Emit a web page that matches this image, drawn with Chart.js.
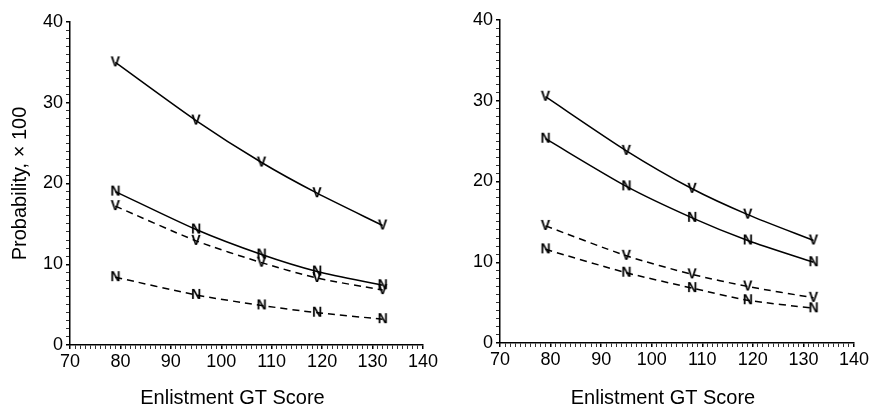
<!DOCTYPE html>
<html>
<head>
<meta charset="utf-8">
<script src="https://cdn.jsdelivr.net/npm/chart.js@4.4.1/dist/chart.umd.min.js"></script>
<style>
  html, body { margin: 0; padding: 0; background: #fff; }
  body { width: 871px; height: 409px; position: relative; overflow: hidden; }
  .panel { position: absolute; top: 0; height: 409px; }
</style>
</head>
<body>
<div class="panel" style="left:0;width:440px"><canvas id="chart-left" width="440" height="409"></canvas></div>
<div class="panel" style="left:435px;width:436px"><canvas id="chart-right" width="436" height="409"></canvas></div>
<script>
// GT scores where the probabilities were evaluated
const gtScores = [79, 95, 108, 119, 132];

// Left panel
const leftSolidV = [35.0, 27.8, 22.6, 18.8, 14.8];
const leftSolidN = [19.0, 14.3, 11.2, 9.1, 7.4];
const leftDashV = [17.2, 12.9, 10.2, 8.3, 6.8];
const leftDashN = [8.4, 6.2, 4.9, 4.0, 3.2];

// Right panel
const rightSolidV = [30.5, 23.8, 19.1, 15.9, 12.7];
const rightSolidN = [25.3, 19.4, 15.5, 12.7, 10.0];
const rightDashV = [14.5, 10.8, 8.5, 7.0, 5.6];
const rightDashN = [11.6, 8.7, 6.8, 5.3, 4.3];

const yTickLabels = [0, 10, 20, 30, 40];
const xTickLabels = [70, 80, 90, 100, 110, 120, 130, 140];
const xTitle = 'Enlistment GT Score';
const yTitle = 'Probability, \u00d7 100';

const FONT = '"Liberation Sans", Arial, Helvetica, sans-serif';

// letter markers (V / N) drawn as small canvases
function letterMarker(ch) {
    const c = document.createElement('canvas');
    c.width = 14;
    c.height = 16;
    const g = c.getContext('2d');
    g.fillStyle = '#000';
    g.font = 'bold 14px ' + FONT;
    g.textAlign = 'center';
    g.textBaseline = 'middle';
    g.fillText(ch, 7, 8.5);
    return c;
}
const markV = letterMarker('V');
const markN = letterMarker('N');

function series(values, marker, dashed) {
    return {
        data: gtScores.map((x, i) => ({ x: x, y: values[i] })),
        borderColor: '#000',
        borderWidth: 1.5,
        borderDash: dashed ? [7, 5] : [],
        pointStyle: marker,
        tension: 0.25,
        fill: false
    };
}

// x title is drawn a bit left of the plot centre, like the original figure
const xTitlePlugin = {
    id: 'xTitle',
    afterDraw(chart) {
        const a = chart.chartArea;
        const g = chart.ctx;
        g.save();
        g.fillStyle = '#000';
        g.font = '20px ' + FONT;
        g.textAlign = 'center';
        g.textBaseline = 'middle';
        g.fillText(xTitle, (a.left + a.right) / 2 - 14, 398);
        g.restore();
    }
};

function makePanel(id, datasets, opts) {
    const ctx = document.getElementById(id);
    return new Chart(ctx, {
        type: 'line',
        data: { datasets: datasets },
        plugins: [xTitlePlugin],
        options: {
            responsive: false,
            animation: false,
            clip: false,
            layout: { padding: { top: opts.top, right: opts.right, left: 0, bottom: 0 } },
            plugins: { legend: { display: false }, tooltip: { enabled: false } },
            scales: {
                x: {
                    type: 'linear',
                    min: 70,
                    max: 140,
                    afterFit: s => { s.height = opts.xHeight; },
                    border: { color: '#000', width: 1.5 },
                    grid: {
                        drawOnChartArea: false,
                        drawTicks: true,
                        tickLength: 4,
                        color: '#000',
                        lineWidth: c => (xTickLabels.includes(c.tick.value) ? 1.5 : 0.8)
                    },
                    ticks: {
                        stepSize: 1,
                        autoSkip: false,
                        maxTicksLimit: 200,
                        maxRotation: 0,
                        padding: 2,
                        color: '#000',
                        font: { family: FONT, size: 18 },
                        callback: v => (xTickLabels.includes(v) ? String(v) : '')
                    }
                },
                y: {
                    min: 0,
                    max: 40,
                    afterFit: s => { s.width = opts.yWidth; },
                    border: { color: '#000', width: 1.5 },
                    grid: {
                        drawOnChartArea: false,
                        drawTicks: true,
                        tickLength: 4,
                        color: '#000',
                        lineWidth: c => (yTickLabels.includes(c.tick.value) ? 1.5 : 0.8)
                    },
                    ticks: {
                        stepSize: 1,
                        autoSkip: false,
                        maxTicksLimit: 200,
                        padding: 3,
                        color: '#000',
                        font: { family: FONT, size: 18 },
                        callback: v => (yTickLabels.includes(v) ? String(v) : '')
                    },
                    title: {
                        display: opts.yTitle,
                        text: yTitle,
                        color: '#000',
                        font: { family: FONT, size: 20 },
                        padding: { top: 8, bottom: 0 }
                    }
                }
            }
        }
    });
}

makePanel('chart-left', [
    series(leftSolidV, markV, false),
    series(leftSolidN, markN, false),
    series(leftDashV, markV, true),
    series(leftDashN, markN, true)
], { top: 22, right: 17, xHeight: 64, yWidth: 70, yTitle: true });

makePanel('chart-right', [
    series(rightSolidV, markV, false),
    series(rightSolidN, markN, false),
    series(rightDashV, markV, true),
    series(rightDashN, markN, true)
], { top: 20, right: 16, xHeight: 66, yWidth: 65, yTitle: false });
</script>
</body>
</html>
